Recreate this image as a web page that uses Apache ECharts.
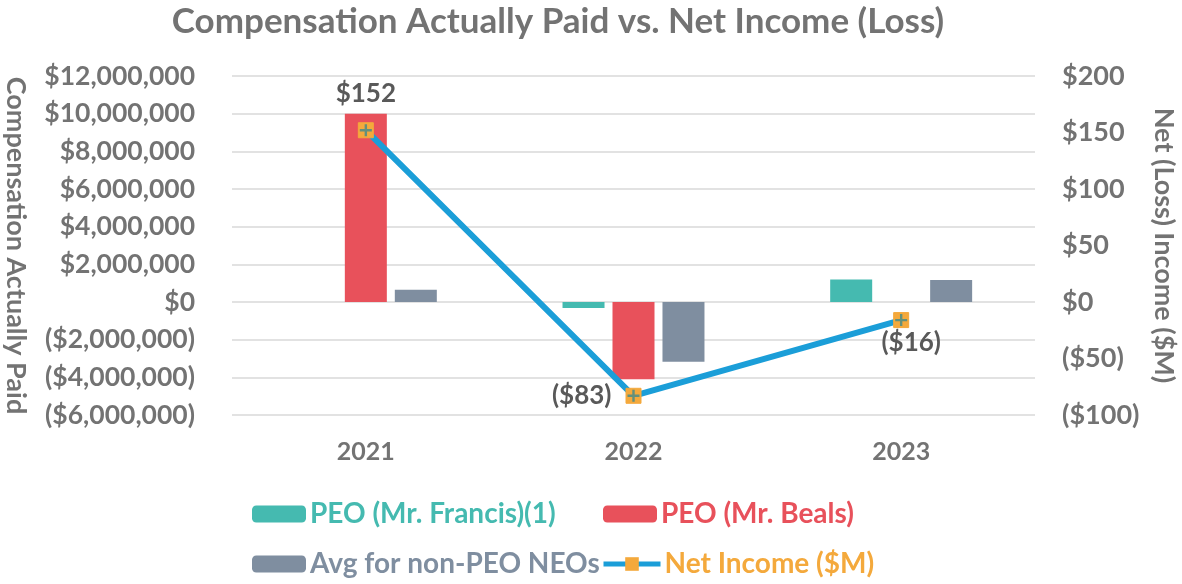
<!DOCTYPE html>
<html>
<head>
<meta charset="utf-8">
<script src="https://cdn.jsdelivr.net/npm/echarts@6/dist/echarts.min.js"></script>
<style>html,body{margin:0;padding:0;background:#fff}#c{width:1182px;height:584px}</style>
</head>
<body>
<div id="c"></div>
<script>
const years = ['2021', '2022', '2023'];
const peoFrancis = [null, -320000, 1200000];
const peoBeals = [10000000, -4100000, null];
const avgNonPeo = [650000, -3170000, 1170000];
const netIncome = [152, -83, -16];
const seriesNames = ['PEO (Mr. Francis)(1)', 'PEO (Mr. Beals)', 'Avg for non-PEO NEOs', 'Net Income ($M)'];

const FONT = 'Lato';
const GREY = '#737373';
const cTeal = '#45BAB0', cRed = '#E8515B', cGrey = '#7F8EA0', cLine = '#1B9ED8', cOrange = '#F4A93C';

function money(v) {
  const s = '$' + Math.abs(v).toLocaleString('en-US');
  return v < 0 ? '(' + s + ')' : s;
}

const chart = echarts.init(document.getElementById('c'));
const legendBase = {
  itemWidth: 54, itemHeight: 17, itemGap: 0, padding: 0,
  textStyle: { fontFamily: FONT, fontWeight: 'bold', fontSize: 28, padding: [0, 0, 0, -1] }
};
const labelCfg = [
  { position: 'top', distance: 16 },
  { position: 'left', distance: 14 },
  { position: 'bottom', distance: 2, offset: [10, 0] }
];
chart.setOption({
  animation: false,
  textStyle: { fontFamily: FONT },
  title: {
    text: 'Compensation Actually Paid vs. Net Income (Loss)',
    left: 553, textAlign: 'center', top: -1,
    textStyle: { fontFamily: FONT, fontWeight: 'bold', fontSize: 35, color: GREY }
  },
  legend: [
    Object.assign({}, legendBase, { data: [seriesNames[0]], left: 252, top: 500, textStyle: Object.assign({}, legendBase.textStyle, { color: cTeal }) }),
    Object.assign({}, legendBase, { data: [seriesNames[1]], left: 603, top: 500, textStyle: Object.assign({}, legendBase.textStyle, { color: cRed }) }),
    Object.assign({}, legendBase, { data: [seriesNames[2]], left: 252, top: 550, textStyle: Object.assign({}, legendBase.textStyle, { color: cGrey }) }),
    Object.assign({}, legendBase, { data: [seriesNames[3]], left: 601, top: 550, itemWidth: 57, lineStyle: { width: 5 }, textStyle: Object.assign({}, legendBase.textStyle, { color: cOrange }) })
  ],
  grid: { left: 232, right: 147, top: 76, bottom: 169, outerBoundsMode: 'none', containLabel: false },
  xAxis: {
    type: 'category', data: years,
    axisLine: { show: false }, axisTick: { show: false },
    axisLabel: { fontFamily: FONT, fontWeight: 'bold', fontSize: 25, color: GREY, margin: 24 }
  },
  yAxis: [
    {
      type: 'value', min: -6000000, max: 12000000, interval: 2000000,
      name: 'Compensation Actually Paid', nameLocation: 'middle', nameGap: 203, nameRotate: 270,
      nameTextStyle: { fontFamily: FONT, fontWeight: 'bold', fontSize: 27, color: GREY },
      axisLine: { show: false }, axisTick: { show: false },
      axisLabel: { fontFamily: FONT, fontWeight: 'bold', fontSize: 26.5, color: GREY, margin: 37, formatter: money },
      splitLine: { lineStyle: { color: '#D9D9D9', width: 1.5 } }
    },
    {
      type: 'value', min: -100, max: 200, interval: 50, position: 'right',
      name: 'Net (Loss) Income ($M)', nameLocation: 'middle', nameGap: 115, nameRotate: 270,
      nameTextStyle: { fontFamily: FONT, fontWeight: 'bold', fontSize: 27, color: GREY },
      axisLine: { show: false }, axisTick: { show: false }, splitLine: { show: false },
      axisLabel: { fontFamily: FONT, fontWeight: 'bold', fontSize: 27, color: GREY, margin: 27, formatter: money }
    }
  ],
  series: [
    { name: seriesNames[0], type: 'bar', data: peoFrancis, barWidth: 42, barGap: '19%', itemStyle: { color: cTeal } },
    { name: seriesNames[1], type: 'bar', data: peoBeals, barWidth: 42, barGap: '19%', itemStyle: { color: cRed } },
    { name: seriesNames[2], type: 'bar', data: avgNonPeo, barWidth: 42, barGap: '19%', itemStyle: { color: cGrey } },
    {
      name: seriesNames[3], type: 'line', yAxisIndex: 1, z: 5,
      data: netIncome.map((v, i) => ({ value: v, label: labelCfg[i] })),
      lineStyle: { color: cLine, width: 6 },
      symbol: 'rect', symbolSize: 15,
      itemStyle: { color: cOrange, borderColor: cOrange },
      label: {
        show: true, fontFamily: FONT, fontWeight: 'bold', fontSize: 26, color: '#595959',
        formatter: p => money(p.value)
      }
    },
    {
      name: 'marker-plus', type: 'scatter', yAxisIndex: 1, z: 6, silent: true,
      data: netIncome,
      symbol: 'path://M4,0 H6 V4 H10 V6 H6 V10 H4 V6 H0 V4 H4 Z', symbolSize: 12,
      itemStyle: { color: '#3F8A8C' }
    }
  ]
});
</script>
</body>
</html>
